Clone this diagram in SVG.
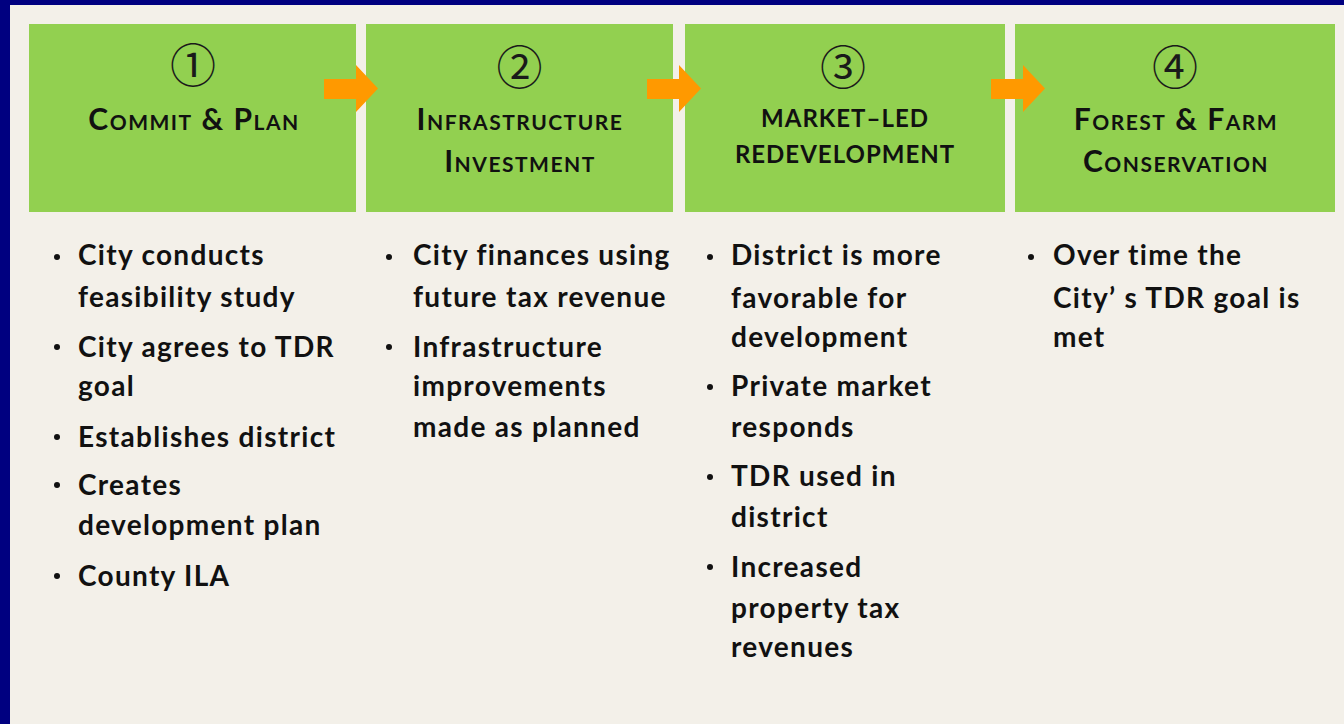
<svg xmlns="http://www.w3.org/2000/svg" width="1344" height="724" viewBox="0 0 1344 724">
<style>
.bg{fill:#F3F0E9}
.frame{fill:#000080}
.box{fill:#92D050}
.arrow{fill:#FF9900}
.num{font-family:"Noto Sans CJK JP","DejaVu Sans",sans-serif;font-size:46px;fill:#1a1a1a;text-anchor:middle}
.hd{font-family:Lato,"Liberation Sans",sans-serif;font-weight:bold;font-size:30px;letter-spacing:1.5px;font-variant:small-caps;fill:#111;text-anchor:middle}
.hdc{font-family:Lato,"Liberation Sans",sans-serif;font-weight:bold;font-size:24px;letter-spacing:1px;fill:#111;text-anchor:middle}
.bt{font-family:Lato,"Liberation Sans",sans-serif;font-weight:bold;font-size:28px;letter-spacing:1.3px;fill:#111}
.dot{fill:#111}
</style>
<defs>
<path id="arr" d="M0,14 H32 V0 L54,23.5 L32,47 V34 H0 Z"/>
</defs>
<rect class="bg" x="0" y="0" width="1344" height="724"/>
<rect class="frame" x="0" y="0" width="1344" height="5"/>
<rect class="frame" x="0" y="0" width="10" height="724"/>

<g id="step1">
<rect class="box" x="29" y="24" width="327" height="188"/>
<text class="num" x="193" y="82">①</text>
<text class="hd" x="194" y="130">Commit &amp; Plan</text>
<circle class="dot" cx="57" cy="257" r="3"/>
<circle class="dot" cx="57" cy="347" r="3"/>
<circle class="dot" cx="57" cy="437" r="3"/>
<circle class="dot" cx="57" cy="485" r="3"/>
<circle class="dot" cx="57" cy="576" r="3"/>
<text class="bt" x="78" y="265">City conducts</text>
<text class="bt" x="78" y="307">feasibility study</text>
<text class="bt" x="78" y="357">City agrees to TDR</text>
<text class="bt" x="78" y="396">goal</text>
<text class="bt" x="78" y="447">Establishes district</text>
<text class="bt" x="78" y="495">Creates</text>
<text class="bt" x="78" y="535">development plan</text>
<text class="bt" x="78" y="586">County ILA</text>
</g>

<g id="step2">
<rect class="box" x="366" y="24" width="307" height="188"/>
<text class="num" x="519.5" y="84">②</text>
<text class="hd" x="520" y="130">Infrastructure</text>
<text class="hd" x="520" y="172">Investment</text>
<circle class="dot" cx="389" cy="257" r="3"/>
<circle class="dot" cx="389" cy="347" r="3"/>
<text class="bt" x="413" y="265">City finances using</text>
<text class="bt" x="413" y="307">future tax revenue</text>
<text class="bt" x="413" y="357">Infrastructure</text>
<text class="bt" x="413" y="396">improvements</text>
<text class="bt" x="413" y="437">made as planned</text>
</g>

<g id="step3">
<rect class="box" x="685" y="24" width="320" height="188"/>
<text class="num" x="843" y="84">③</text>
<text class="hdc" x="845" y="127">MARKET–LED</text>
<text class="hdc" x="845" y="163">REDEVELOPMENT</text>
<circle class="dot" cx="710" cy="257" r="3"/>
<circle class="dot" cx="710" cy="387" r="3"/>
<circle class="dot" cx="710" cy="477" r="3"/>
<circle class="dot" cx="710" cy="567" r="3"/>
<text class="bt" x="731" y="265">District is more</text>
<text class="bt" x="731" y="308">favorable for</text>
<text class="bt" x="731" y="347">development</text>
<text class="bt" x="731" y="396">Private market</text>
<text class="bt" x="731" y="437">responds</text>
<text class="bt" x="731" y="486">TDR used in</text>
<text class="bt" x="731" y="527">district</text>
<text class="bt" x="731" y="577">Increased</text>
<text class="bt" x="731" y="618">property tax</text>
<text class="bt" x="731" y="657">revenues</text>
</g>

<g id="step4">
<rect class="box" x="1015" y="24" width="320" height="188"/>
<text class="num" x="1175" y="84">④</text>
<text class="hd" x="1176" y="130">Forest &amp; Farm</text>
<text class="hd" x="1176" y="172">Conservation</text>
<circle class="dot" cx="1031" cy="257" r="3"/>
<text class="bt" x="1053" y="265">Over time the</text>
<text class="bt" x="1053" y="308">City’ s TDR goal is</text>
<text class="bt" x="1053" y="347">met</text>
</g>

<g id="connectors">
<use href="#arr" class="arrow" x="324" y="65"/>
<use href="#arr" class="arrow" x="647" y="65"/>
<use href="#arr" class="arrow" x="991" y="65"/>
</g>
</svg>
